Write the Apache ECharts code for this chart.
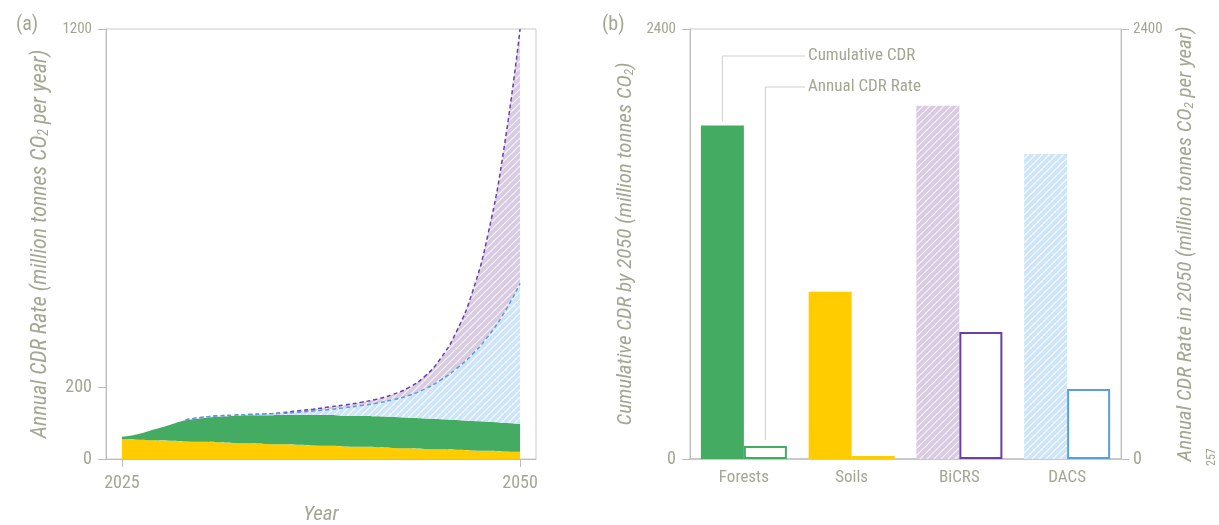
<!DOCTYPE html>
<html><head><meta charset="utf-8">
<script src="https://cdn.jsdelivr.net/npm/echarts@6/dist/echarts.min.js"></script>
<style>html,body{margin:0;padding:0;background:#fff}#c{width:1219px;height:525px}</style>
</head><body><div id="c"></div>
<script>
// ---- data ----
const years = [2025,2026,2027,2028,2029,2030,2031,2032,2033,2034,2035,2036,2037,2038,2039,2040,2041,2042,2043,2044,2045,2046,2047,2048,2049,2050];
const soils   = [55,54,52,51,49,48,47,45,44,42,41,40,38,37,35,34,33,31,30,28,27,26,24,23,21,20];
const forests = [7,15,30,44,59,66,71,75,78,80,82,83,85,86,86,87,86,86,85,85,84,83,82,81,80,78];
const dacs    = ['-','-','-','-',1,2,2,2,2,3.5,4,7,11,15,22,28,37,48,62,82,109,143,186,239,307,392];
const bicrs   = ['-','-','-','-',0,0,0,0,0,0,2,4,5,7,8,9,11,15,22,35,60,103,173,287,462,710];
const rateTicksLow = [0,200];
const rateTickTop = [1200];
const yearTicks = ['2025','2050'];
const barCategories = ['Forests','Soils','BiCRS','DACS'];
const cumulative2050 = [1862,934,1972,1702];
const annual2050 = [73,17,709,391];
const barTickLow = [0];
const barTickTop = [2400];

// padded year axis (one empty year each side)
const yearAxis = [String(years[0]-1)].concat(years.map(String), [String(years[years.length-1]+1)]);
const pad = arr => ['-'].concat(arr, ['-']);

// ---- styles ----
const FONT = "'Liberation Sans Narrow','Roboto Condensed','Liberation Sans',sans-serif";
const grey = '#a3a693';
const axisGrey = '#bcbcbc';
function hatch(bg, stripe){
  const s=7, c=document.createElement('canvas'); c.width=c.height=s;
  const g=c.getContext('2d'); g.fillStyle=bg; g.fillRect(0,0,s,s);
  g.strokeStyle=stripe; g.lineWidth=1.2; g.beginPath();
  for (const o of [-s,0,s]) { g.moveTo(o,s); g.lineTo(o+s,0); }
  g.stroke(); return c;
}
const purpleHatch = {image: hatch('#d8cbe2','rgba(255,255,255,0.8)'), repeat:'repeat'};
const blueHatch = {image: hatch('#cfe5f7','rgba(255,255,255,0.85)'), repeat:'repeat'};
const green = '#43ac62', yellow = '#ffcc00', purple = '#6b3fa6', blue = '#5a9fd8';
const cumFills = [green, yellow, purpleHatch, blueHatch];
const rateColors = [green, yellow, purple, blue];

function nameStyle(size){
  return {fontStyle:'italic', fontSize:size, color:grey, fontFamily:FONT,
    rich:{sub:{fontStyle:'italic', fontSize:Math.round(size*0.62), color:grey, fontFamily:FONT, verticalAlign:'bottom'}}};
}
function mainY(grid, max, ticks, pos, name, nameGap, nameSize, margin){
  return {gridIndex:grid, type:'value', min:0, max:max, position:pos,
    name:name, nameLocation:'middle', nameGap:nameGap, nameRotate:90, nameTextStyle:nameStyle(nameSize),
    axisLine:{show:true, lineStyle:{color:axisGrey}},
    axisTick:{show:true, customValues:ticks.all, length:8, lineStyle:{color:axisGrey}},
    axisLabel:{customValues:ticks.big, margin:margin, fontSize:18, color:grey, fontFamily:FONT, formatter:v=>String(v)},
    splitLine:{show:false}};
}
function topLabelY(grid, max, ticks, pos, margin){
  return {gridIndex:grid, type:'value', min:0, max:max, position:pos,
    axisLine:{show:false}, axisTick:{show:false},
    axisLabel:{customValues:ticks, margin:margin, fontSize:15, color:grey, fontFamily:FONT, formatter:v=>String(v)},
    splitLine:{show:false}};
}

const chart = echarts.init(document.getElementById('c'));
const areaBase = {type:'line', xAxisIndex:0, yAxisIndex:0, stack:'total', symbol:'none', smooth:0.5};
const option = {
  animation:false,
  textStyle:{fontFamily:FONT},
  grid:[
    {left:106, top:29, width:430, height:430, show:true, borderColor:'#c9c9c9', borderWidth:1, outerBoundsMode:'none', containLabel:false},
    {left:690, top:29, width:431, height:430, show:true, borderColor:'#c9c9c9', borderWidth:1, outerBoundsMode:'none', containLabel:false}
  ],
  xAxis:[
    {gridIndex:0, type:'category', data:yearAxis, boundaryGap:false,
     name:'Year', nameLocation:'middle', nameGap:45,
     nameTextStyle:{fontStyle:'italic', fontSize:21, color:grey},
     axisLine:{lineStyle:{color:axisGrey}},
     axisTick:{length:8, lineStyle:{color:axisGrey}, interval:(i,v)=>yearTicks.indexOf(String(v))>=0},
     axisLabel:{fontSize:18, color:grey, margin:15, interval:(i,v)=>yearTicks.indexOf(String(v))>=0},
     splitLine:{show:false}},
    {gridIndex:1, type:'category', data:barCategories,
     axisLine:{lineStyle:{color:'#c9c9c9', width:2}}, axisTick:{show:false},
     axisLabel:{fontSize:17, color:grey, margin:10}}
  ],
  yAxis:[
    mainY(0, 1200, {all:rateTicksLow.concat(rateTickTop), big:rateTicksLow}, 'left',
      'Annual CDR Rate (million tonnes CO{sub|2} per year)', 55, 22, 14),
    mainY(1, 2400, {all:barTickLow.concat(barTickTop), big:barTickLow}, 'left',
      'Cumulative CDR by 2050 (million tonnes CO{sub|2})', 54, 21, 14),
    mainY(1, 2400, {all:barTickLow.concat(barTickTop), big:barTickLow}, 'right',
      'Annual CDR Rate in 2050 (million tonnes CO{sub|2} per year)', 54, 21, 12),
    topLabelY(0, 1200, rateTickTop, 'left', 14),
    topLabelY(1, 2400, barTickTop, 'left', 14),
    topLabelY(1, 2400, barTickTop, 'right', 12)
  ],
  series:[
    Object.assign({}, areaBase, {name:'Soils', data:pad(soils), z:2,
      lineStyle:{opacity:0}, areaStyle:{color:yellow, opacity:1}}),
    Object.assign({}, areaBase, {name:'Forests', data:pad(forests), z:2,
      lineStyle:{opacity:0}, areaStyle:{color:green, opacity:1}}),
    Object.assign({}, areaBase, {name:'DACS', data:pad(dacs), z:4,
      lineStyle:{color:blue, width:1.5, type:[4,3]}, areaStyle:{color:blueHatch, opacity:1}}),
    Object.assign({}, areaBase, {name:'BiCRS', data:pad(bicrs), z:3,
      lineStyle:{color:purple, width:1.5, type:[4,3]}, areaStyle:{color:purpleHatch, opacity:1}}),
    {type:'bar', name:'Cumulative CDR', xAxisIndex:1, yAxisIndex:1, barWidth:43, barGap:'0%',
     data:cumulative2050.map((v,i)=>({value:v, itemStyle:{color:cumFills[i]}}))},
    {type:'bar', name:'Annual CDR Rate', xAxisIndex:1, yAxisIndex:2, barWidth:43, barGap:'0%',
     data:annual2050.map((v,i)=>({value:v, itemStyle:{color:'#fff', borderColor:rateColors[i], borderWidth:2}}))}
  ]
};
chart.setOption(option);

const cx = chart.convertToPixel({xAxisIndex:1}, barCategories[0]);
const yCum = chart.convertToPixel({yAxisIndex:1}, cumulative2050[0]);
const yAnn = chart.convertToPixel({yAxisIndex:2}, annual2050[0]);
const leader = {stroke:'#cfcfcf', lineWidth:1, fill:null};
chart.setOption({graphic:[
  {type:'text', left:16, top:15, style:{text:'(a)', fill:grey, font:'20px '+FONT}},
  {type:'text', left:602, top:15, style:{text:'(b)', fill:grey, font:'20px '+FONT}},
  {type:'text', x:1206, y:466, rotation:Math.PI/2, style:{text:'257', fill:grey, font:'12px '+FONT}},
  {type:'polyline', shape:{points:[[cx-21.5, yCum-4],[cx-21.5,56],[805,56]]}, style:leader},
  {type:'polyline', shape:{points:[[cx+21.5, yAnn-6],[cx+21.5,87],[805,87]]}, style:leader},
  {type:'text', x:808, y:56, style:{text:'Cumulative CDR', fill:grey, font:'17px '+FONT, verticalAlign:'middle'}},
  {type:'text', x:808, y:87, style:{text:'Annual CDR Rate', fill:grey, font:'17px '+FONT, verticalAlign:'middle'}}
]});
</script></body></html>
